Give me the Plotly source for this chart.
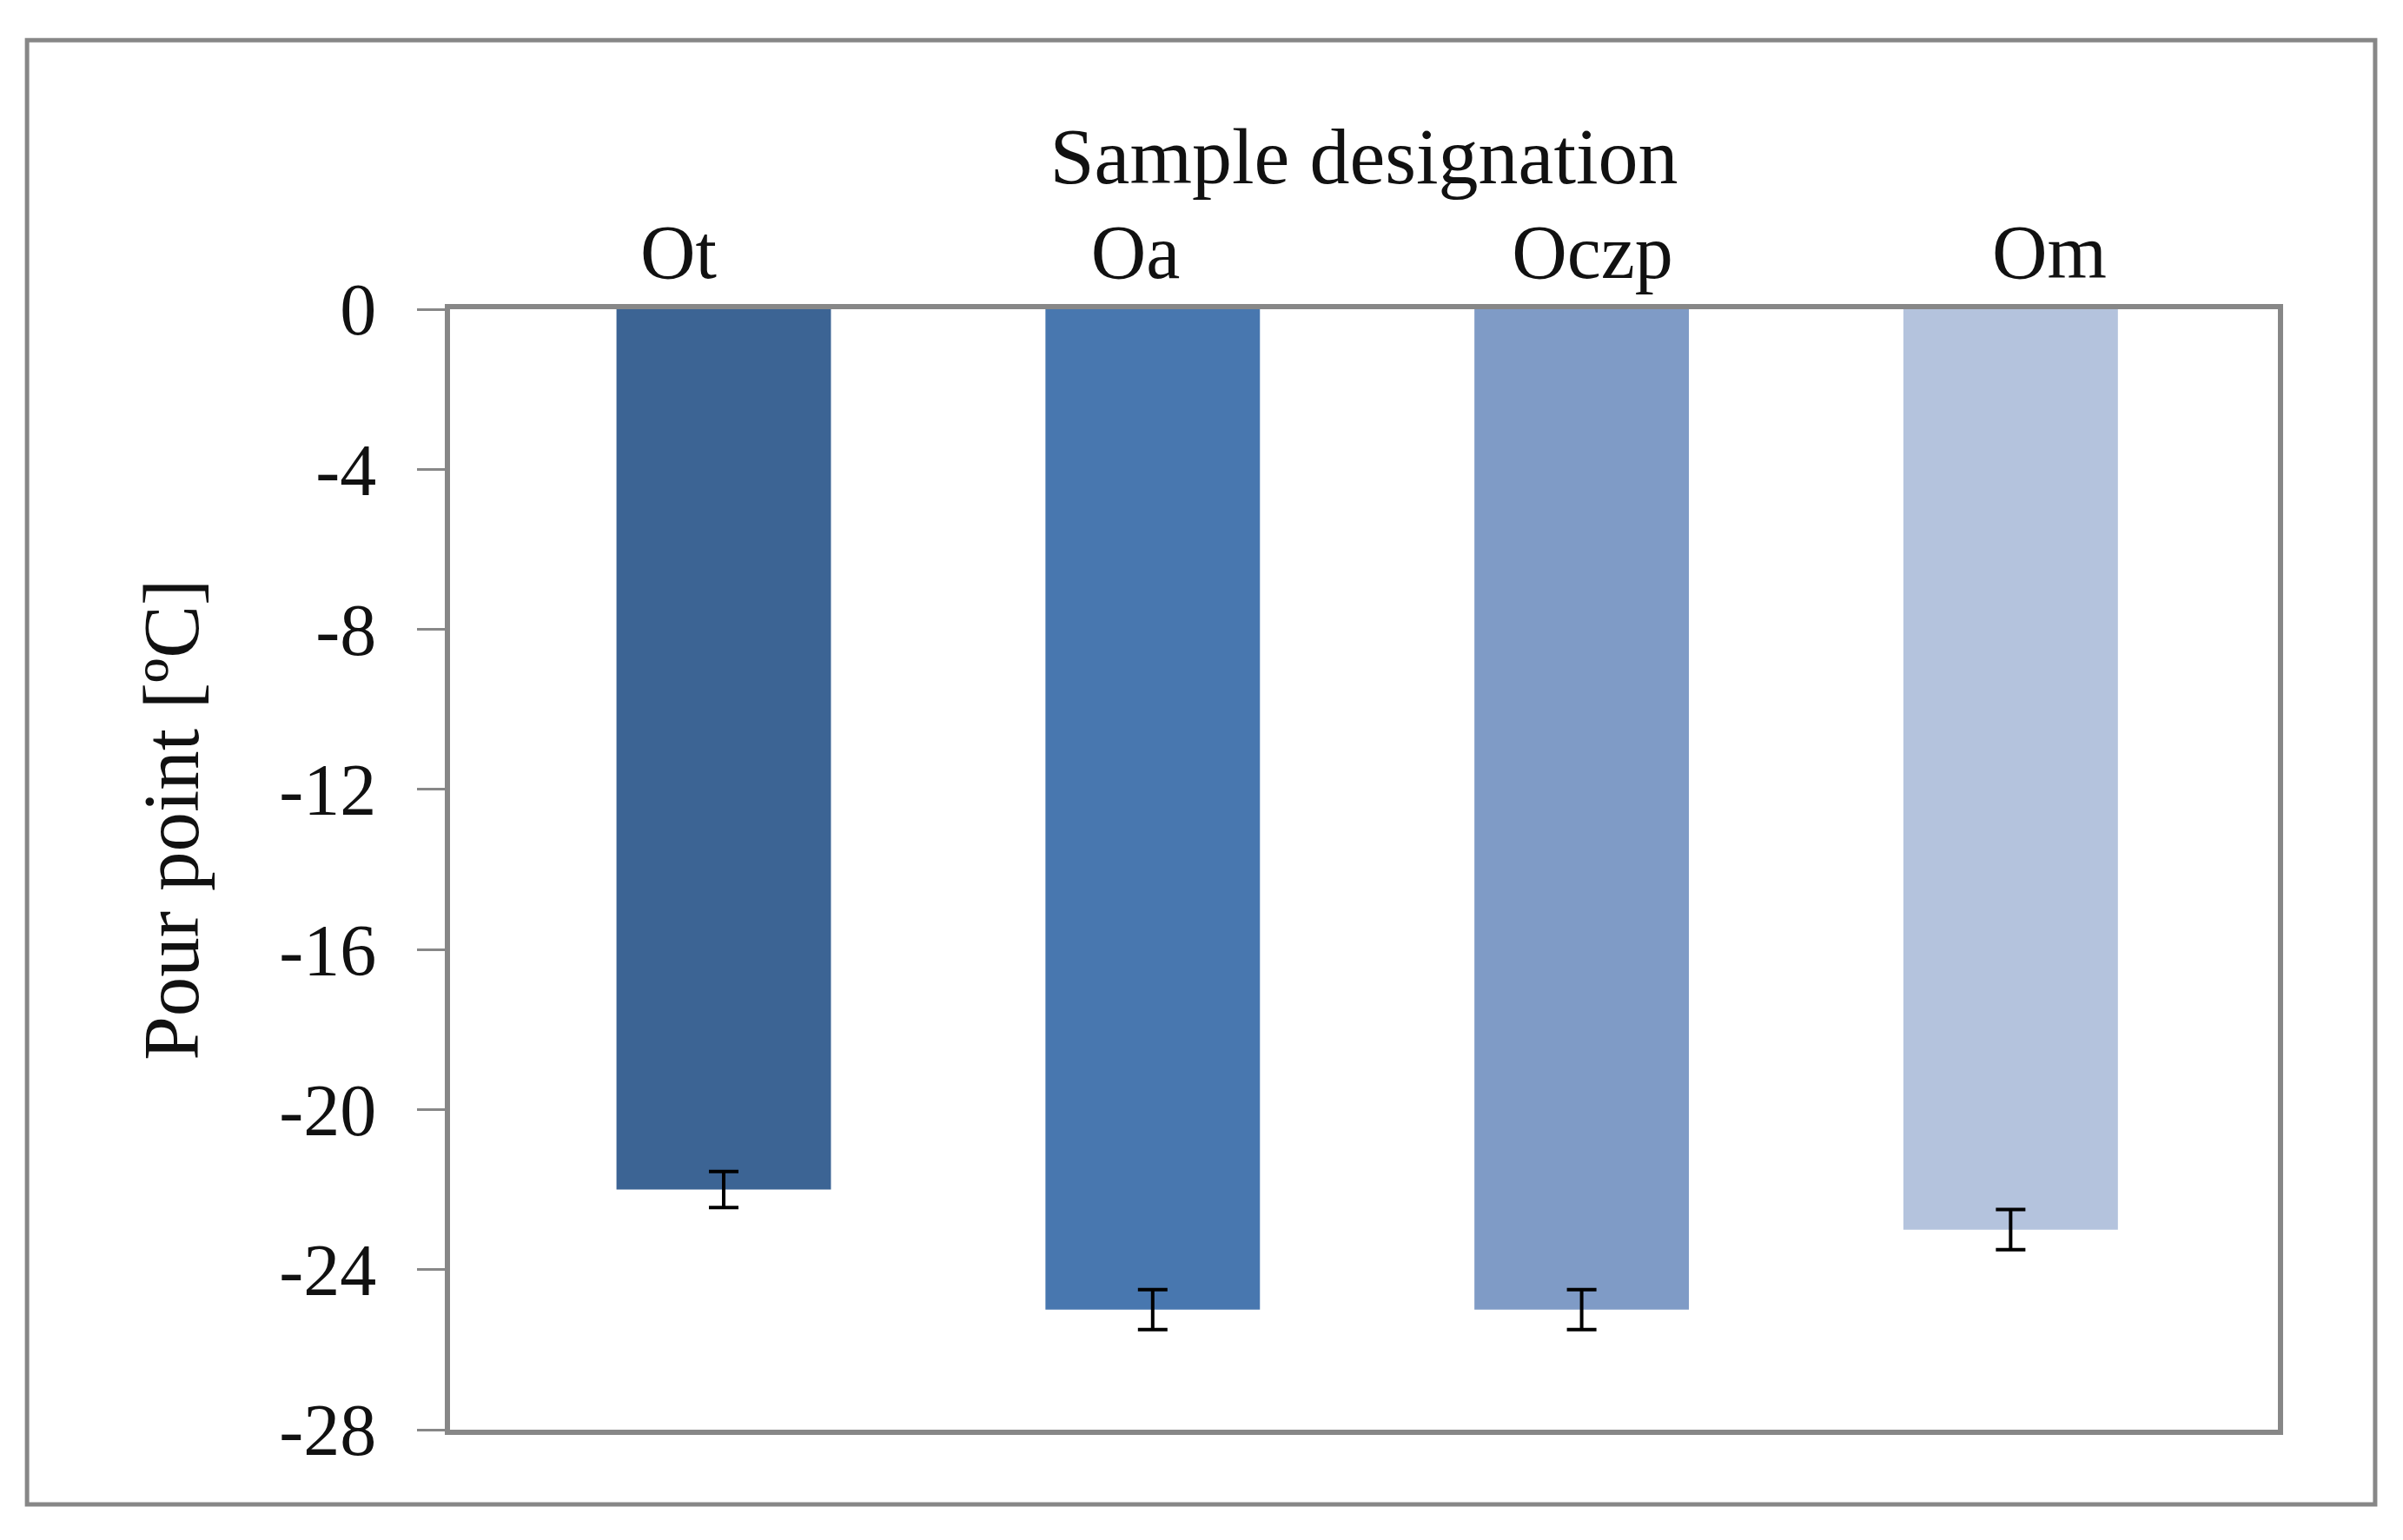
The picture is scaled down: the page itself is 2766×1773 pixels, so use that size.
import plotly.graph_objects as go

categories = ["Ot", "Oa", "Oczp", "Om"]
pour_point = [-22.0, -25.0, -25.0, -23.0]
error = [0.45, 0.5, 0.5, 0.5]
bar_colors = ["#3C6494", "#4877AF", "#7F9BC6", "#B4C3DD"]
y_tickvals = [0, -4, -8, -12, -16, -20, -24, -28]
y_ticktext = ["0", "-4", "-8", "-12", "-16", "-20", "-24", "-28"]

FONT = "Liberation Serif"
LINE = "#878787"

positions = list(range(len(categories)))

fig = go.Figure()
fig.add_trace(go.Bar(
    x=positions, y=pour_point, width=0.5,
    marker=dict(color=bar_colors, line=dict(width=0)),
    error_y=dict(type="data", array=error, visible=True,
                 color="#000000", thickness=4, width=17),
    showlegend=False, hoverinfo="skip",
))
# invisible trace that carries the category axis on top
fig.add_trace(go.Scatter(
    x=categories, y=pour_point, xaxis="x2", mode="markers",
    marker=dict(opacity=0), showlegend=False, hoverinfo="skip",
))

fig.update_layout(
    width=2750, height=1757,
    margin=dict(l=510, r=136, t=348, b=119),
    paper_bgcolor="white", plot_bgcolor="white",
    font=dict(family=FONT, color="#111111"),
    xaxis=dict(
        range=[-0.638, 3.623], showticklabels=False, ticks="",
        showgrid=False, zeroline=False,
        showline=True, mirror=True, linecolor=LINE, linewidth=6,
    ),
    xaxis2=dict(
        overlaying="x", side="top", type="category",
        range=[-0.5, 3.5], showgrid=False, zeroline=False,
        showline=False, ticks="",
        tickfont=dict(family=FONT, size=88, color="#111111"),
        ticklabelstandoff=17,
        title=dict(text="Sample designation", standoff=0,
                   font=dict(family=FONT, size=92, color="#111111")),
    ),
    yaxis=dict(
        range=[-28, 0], tickvals=y_tickvals, ticktext=y_ticktext,
        ticks="outside", ticklen=32, tickwidth=3, tickcolor=LINE,
        tickfont=dict(family=FONT, size=84, color="#111111"),
        ticklabelstandoff=30,
        showgrid=False, zeroline=False,
        showline=True, mirror=True, linecolor=LINE, linewidth=6,
    ),
    annotations=[dict(
        text="Pour point [ºC]", textangle=-90,
        xref="paper", yref="paper", x=-0.1525, y=0.5445,
        xanchor="center", yanchor="middle", showarrow=False,
        font=dict(family=FONT, size=91, color="#111111"),
    )],
    shapes=[dict(
        type="rect", xref="paper", yref="paper",
        x0=-0.2314, x1=1.0532, y0=-0.0666, y1=1.2401,
        line=dict(color=LINE, width=5), fillcolor="rgba(0,0,0,0)",
        layer="below",
    )],
)

fig.write_html("out.html")
